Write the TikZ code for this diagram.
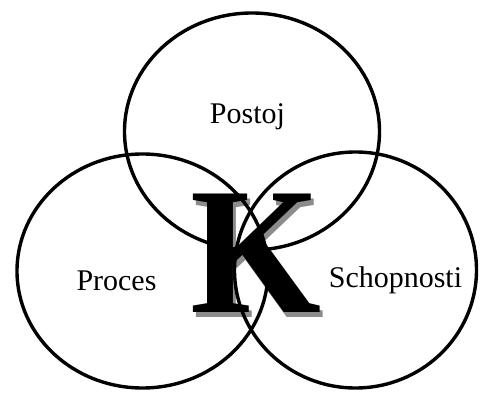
\documentclass[tikz,border=0pt]{standalone}
\usepackage{fontspec}
\setmainfont{Liberation Serif}
\usetikzlibrary{positioning}

\newcommand{\shadowedK}{\makebox[0pt][l]{\kern3pt\raisebox{-5pt}{\textcolor{black!45}{K}}}K}

\begin{document}
\begin{tikzpicture}[
    x=1pt, y=1pt,
    ring/.style={draw=black, line width=3.4pt},
    label/.style={font=\fontsize{30}{36}\selectfont, anchor=base, inner sep=0pt},
    bigK/.style={font=\fontsize{181}{190}\selectfont\bfseries, anchor=base,
                 inner sep=0pt, xscale=0.93, transform shape}
]
\useasboundingbox (0,0) rectangle (480,392);

% Letter K with its shadow
\node[bigK] (letterK) at (256,80) {\shadowedK};

% Circles
\coordinate (ctop) at (252,260.5);
\coordinate (cleft) at (142.5,121);
\coordinate (cright) at (355.5,122);
\draw[ring] (ctop) ellipse (127.5 and 118.5);
\draw[ring] (cleft) ellipse (125.5 and 117);
\draw[ring] (cright) ellipse (121 and 118);

% Labels
\node[label] (postoj) at (247.5,269) {Postoj};
\node[label] (proces) at (116.5,102) {Proces};
\node[label] (schopnosti) at (395.5,105) {Schopnosti};

\end{tikzpicture}
\end{document}
